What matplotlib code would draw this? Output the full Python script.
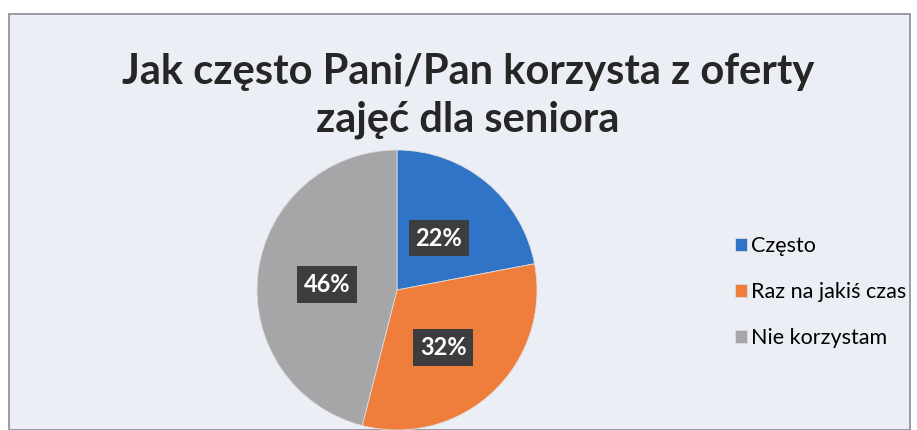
import matplotlib.pyplot as plt
from matplotlib.patches import Rectangle

categories = ['Często', 'Raz na jakiś czas', 'Nie korzystam']
values = [22, 32, 46]
colors = ['#2f74c6', '#ef7d3c', '#a6a6a8']
title = 'Jak często Pani/Pan korzysta z oferty\nzajęć dla seniora'

# label offsets (fraction of radius) for the percent boxes
label_pos = [(0.30, 0.37), (0.33, -0.41), (-0.50, 0.04)]


def main():
    plt.rcParams['font.family'] = ['Lato', 'DejaVu Sans']
    W, H = 917, 430
    fig = plt.figure(figsize=(W / 100, H / 100), dpi=100)
    fig.patch.set_facecolor('white')

    # chart area background with border
    bg = Rectangle((9 / W, 0), (910 - 9) / W, (H - 14) / H, transform=fig.transFigure,
                   facecolor='#eceef6', edgecolor='#8a8c94', linewidth=1.2, zorder=-10)
    fig.patches.append(bg)

    # pie axes: center (397, 290) px from top, radius 140
    cx, cy, r = 397, H - 290, 140
    ax = fig.add_axes([(cx - r) / W, (cy - r) / H, 2 * r / W, 2 * r / H])

    wedges, _ = ax.pie(values, colors=colors, startangle=90, counterclock=False,
                       radius=1, wedgeprops=dict(linewidth=0.6, edgecolor='#dddddd'))
    ax.set_xlim(-1, 1)
    ax.set_ylim(-1, 1)
    ax.axis('off')

    for (x, y), v in zip(label_pos, values):
        ax.text(x, y, f'{v}%', ha='center', va='center', color='white',
                fontsize=17, fontweight='bold',
                bbox=dict(boxstyle='square,pad=0.28', facecolor='#3d3d3f', edgecolor='none'))

    fig.text(468 / W, 1 - 96 / H, title, ha='center', va='center', fontsize=30,
             fontweight='bold', color='#262626', linespacing=1.33)

    fig.legend(wedges, categories, loc='center left', bbox_to_anchor=(724 / W, 1 - 292 / H),
               frameon=False, fontsize=15.5, handlelength=0.55, handleheight=0.55,
               handletextpad=0.2, labelspacing=1.22, borderpad=0)

    fig.savefig('out.png', dpi=100, facecolor=fig.get_facecolor())


if __name__ == "__main__":
    main()
